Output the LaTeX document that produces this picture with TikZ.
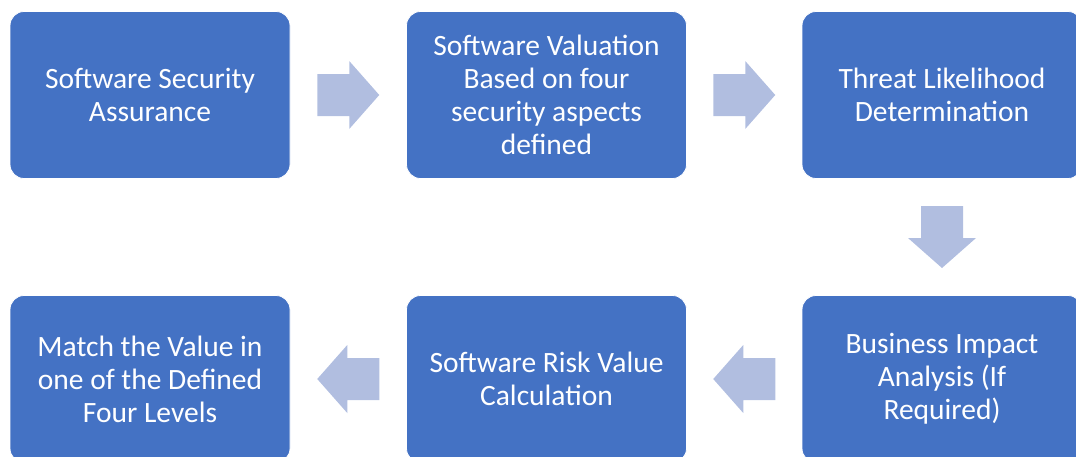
\documentclass[tikz,border=0pt]{standalone}
\usepackage{fontspec}
\setmainfont{Carlito}
\usetikzlibrary{calc}
\definecolor{boxblue}{HTML}{4472C4}
\definecolor{arrowblue}{HTML}{B1BEE0}
\tikzset{
  stage/.style={fill=boxblue, draw=white, line width=0.8pt, rounded corners=14pt,
    minimum width=280pt, minimum height=167pt, inner sep=0pt,
    text=white, align=center,
    font=\fontsize{29.5pt}{33pt}\selectfont},
  flowarrow/.pic={
    \fill[arrowblue] (-31,-21) -- (1,-21) -- (1,-34) -- (31,0) -- (1,34) -- (1,21) -- (-31,21) -- cycle;
  }
}
\begin{document}
\begin{tikzpicture}[x=1pt,y=-1pt]
  \useasboundingbox (0,0) rectangle (1076,456);
  % top row
  \node[stage] (assure) at (150,95) {Software Security\\Assurance};
  \node[stage] (value) at (546.5,95) {Software Valuation\\Based on four\\security aspects\\defined};
  \node[stage] (threat) at (942,95) {Threat Likelihood\\Determination};
  % bottom row
  \node[stage] (impact) at (942,379) {Business Impact\\Analysis (If\\Required)};
  \node[stage] (risk) at (546.5,379) {Software Risk Value\\Calculation};
  \node[stage] (match) at (150,379) {Match the Value in\\one of the Defined\\Four Levels};
  % block arrows between stages
  \pic at ($(assure.east)!0.5!(value.west)$) {flowarrow};
  \pic at ($(value.east)!0.5!(threat.west)$) {flowarrow};
  \pic[rotate=-90] at ($(threat.south)!0.5!(impact.north)$) {flowarrow};
  \pic[rotate=180] at ($(impact.west)!0.5!(risk.east)$) {flowarrow};
  \pic[rotate=180] at ($(risk.west)!0.5!(match.east)$) {flowarrow};
\end{tikzpicture}
\end{document}
